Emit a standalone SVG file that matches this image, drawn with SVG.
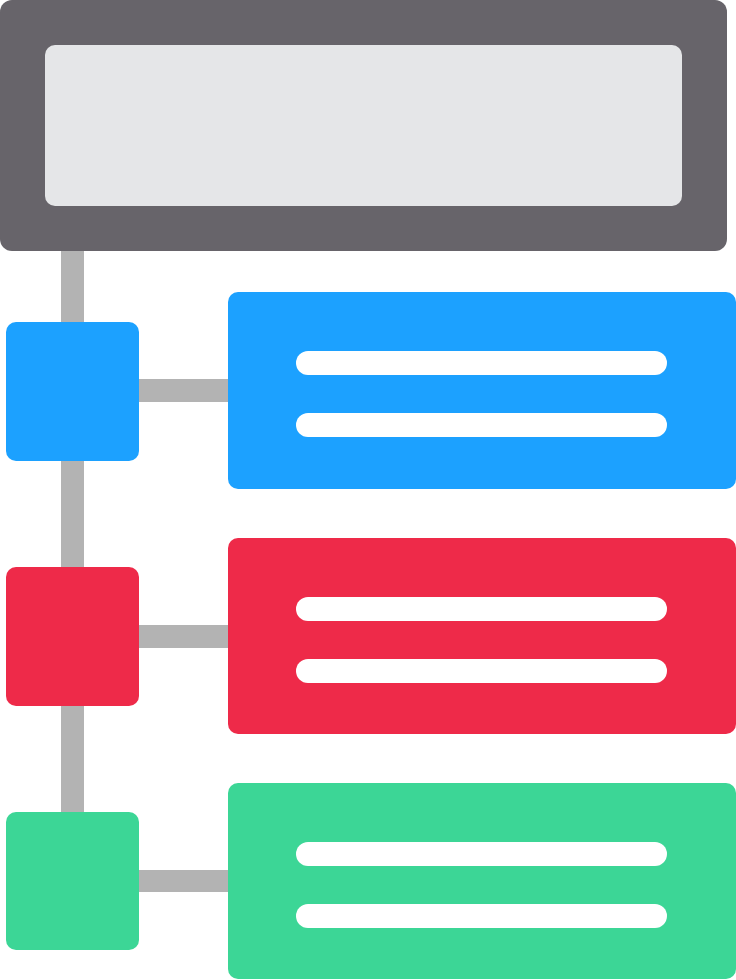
<svg xmlns="http://www.w3.org/2000/svg" width="736" height="980" viewBox="0 0 736 980">
<style>
.conn{fill:#b3b3b3}
.line{fill:#ffffff}
.blue{fill:#1ca1ff}
.red{fill:#ee2a49}
.green{fill:#3cd696}
</style>
<rect width="736" height="980" fill="#ffffff"/>
<g id="connectors">
<rect class="conn" x="61" y="245" width="23" height="575"/>
<rect class="conn" x="135" y="379" width="97" height="23"/>
<rect class="conn" x="135" y="625" width="97" height="23"/>
<rect class="conn" x="135" y="870" width="97" height="22"/>
</g>
<g id="header">
<rect x="0" y="0" width="727" height="251" rx="12" fill="#67646a"/>
<rect x="45" y="45" width="637" height="161" rx="10" fill="#e5e6e8"/>
</g>
<g id="node-blue-square"><rect class="blue" x="6" y="322" width="133" height="139" rx="10"/></g>
<g id="node-blue-card">
<rect class="blue" x="228" y="292" width="508" height="197" rx="10"/>
<rect class="line" x="296" y="351" width="371" height="24" rx="12"/>
<rect class="line" x="296" y="413" width="371" height="24" rx="12"/>
</g>
<g id="node-red-square"><rect class="red" x="6" y="567" width="133" height="139" rx="10"/></g>
<g id="node-red-card">
<rect class="red" x="228" y="538" width="508" height="196" rx="10"/>
<rect class="line" x="296" y="597" width="371" height="24" rx="12"/>
<rect class="line" x="296" y="659" width="371" height="24" rx="12"/>
</g>
<g id="node-green-square"><rect class="green" x="6" y="812" width="133" height="138" rx="10"/></g>
<g id="node-green-card">
<rect class="green" x="228" y="783" width="508" height="196" rx="10"/>
<rect class="line" x="296" y="842" width="371" height="24" rx="12"/>
<rect class="line" x="296" y="904" width="371" height="24" rx="12"/>
</g>
</svg>
